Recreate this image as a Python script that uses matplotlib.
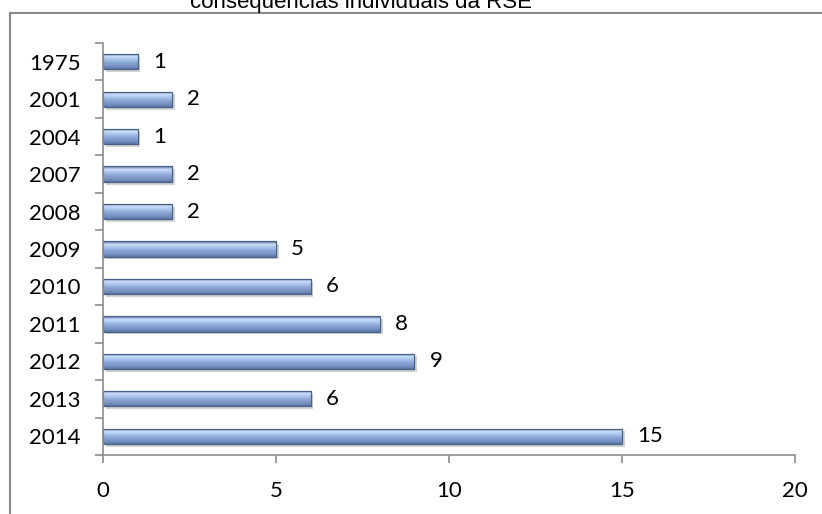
import numpy as np
import matplotlib
matplotlib.use("Agg")
from matplotlib import pyplot as plt
from matplotlib.colors import LinearSegmentedColormap
from matplotlib.lines import Line2D
import matplotlib.patheffects as pe

years = ['1975', '2001', '2004', '2007', '2008', '2009', '2010', '2011', '2012', '2013', '2014']
counts = [1, 2, 1, 2, 2, 5, 6, 8, 9, 6, 15]
title = "consequências individuais da RSE"

plt.rcParams['font.family'] = ['Lato', 'DejaVu Sans']

fig = plt.figure(figsize=(8.22, 5.14), dpi=100)
ax = fig.add_axes([103/822, 1 - 455/514, 692/822, 412/514])

ypos = np.arange(len(years))
h = 0.41
bars = ax.barh(ypos, counts, height=h, color='#8aa6d6', edgecolor='#4a6690', linewidth=0.8,
               path_effects=[pe.SimplePatchShadow(offset=(2, -2), shadow_rgbFace='#999999', alpha=0.45), pe.Normal()])

# gradient fill over each bar
cmap = LinearSegmentedColormap.from_list('bevel', ['#50688f', '#c9defa', '#a9c2ea', '#8aa6d6', '#7a95c4', '#5d77a4'])
grad = np.linspace(0, 1, 64).reshape(-1, 1)
for b in bars:
    x0, y0 = b.get_x(), b.get_y()
    w, bh = b.get_width(), b.get_height()
    im = ax.imshow(grad, cmap=cmap, aspect='auto', origin='upper',
                   extent=(x0, x0 + w, y0 + bh, y0), zorder=b.get_zorder() + 0.1)
    im.set_clip_path(b)
    ax.add_line(Line2D([x0, x0 + w, x0 + w, x0, x0], [y0, y0, y0 + bh, y0 + bh, y0],
                       color='#46608a', lw=0.8, zorder=b.get_zorder() + 0.2))

for y, v in zip(ypos, counts):
    ax.annotate(str(v), (v, y), xytext=(11, 0), textcoords='offset points',
                va='center', ha='left', fontsize=16)

ax.set_xlim(0, 20)
ax.set_ylim(len(years) - 0.5, -0.5)
ax.set_xticks([0, 5, 10, 15, 20])
ax.set_yticks(ypos)
ax.set_yticklabels(years)
ax.set_yticks(np.arange(len(years) + 1) - 0.5, minor=True)
ax.tick_params(axis='y', which='major', length=0, pad=16, labelsize=16)
ax.tick_params(axis='y', which='minor', length=6, color='#8c8c8c', width=1.2)
ax.tick_params(axis='x', length=6, color='#8c8c8c', width=1.2, pad=13, labelsize=16)
for s in ['top', 'right']:
    ax.spines[s].set_visible(False)
for s in ['left', 'bottom']:
    ax.spines[s].set_color('#8c8c8c')
    ax.spines[s].set_linewidth(1.2)

# outer chart border (left and top visible)
fig.add_artist(Line2D([10/822, 10/822], [0, 1 - 13/514], transform=fig.transFigure, color='#898989', lw=1.5))
fig.add_artist(Line2D([10/822, 1], [1 - 13/514, 1 - 13/514], transform=fig.transFigure, color='#898989', lw=1.5))

fig.text(361/822, 1 - 8/514, title, ha='center', va='baseline', fontsize=16, family='Liberation Sans')

fig.savefig('out.png', dpi=100)
